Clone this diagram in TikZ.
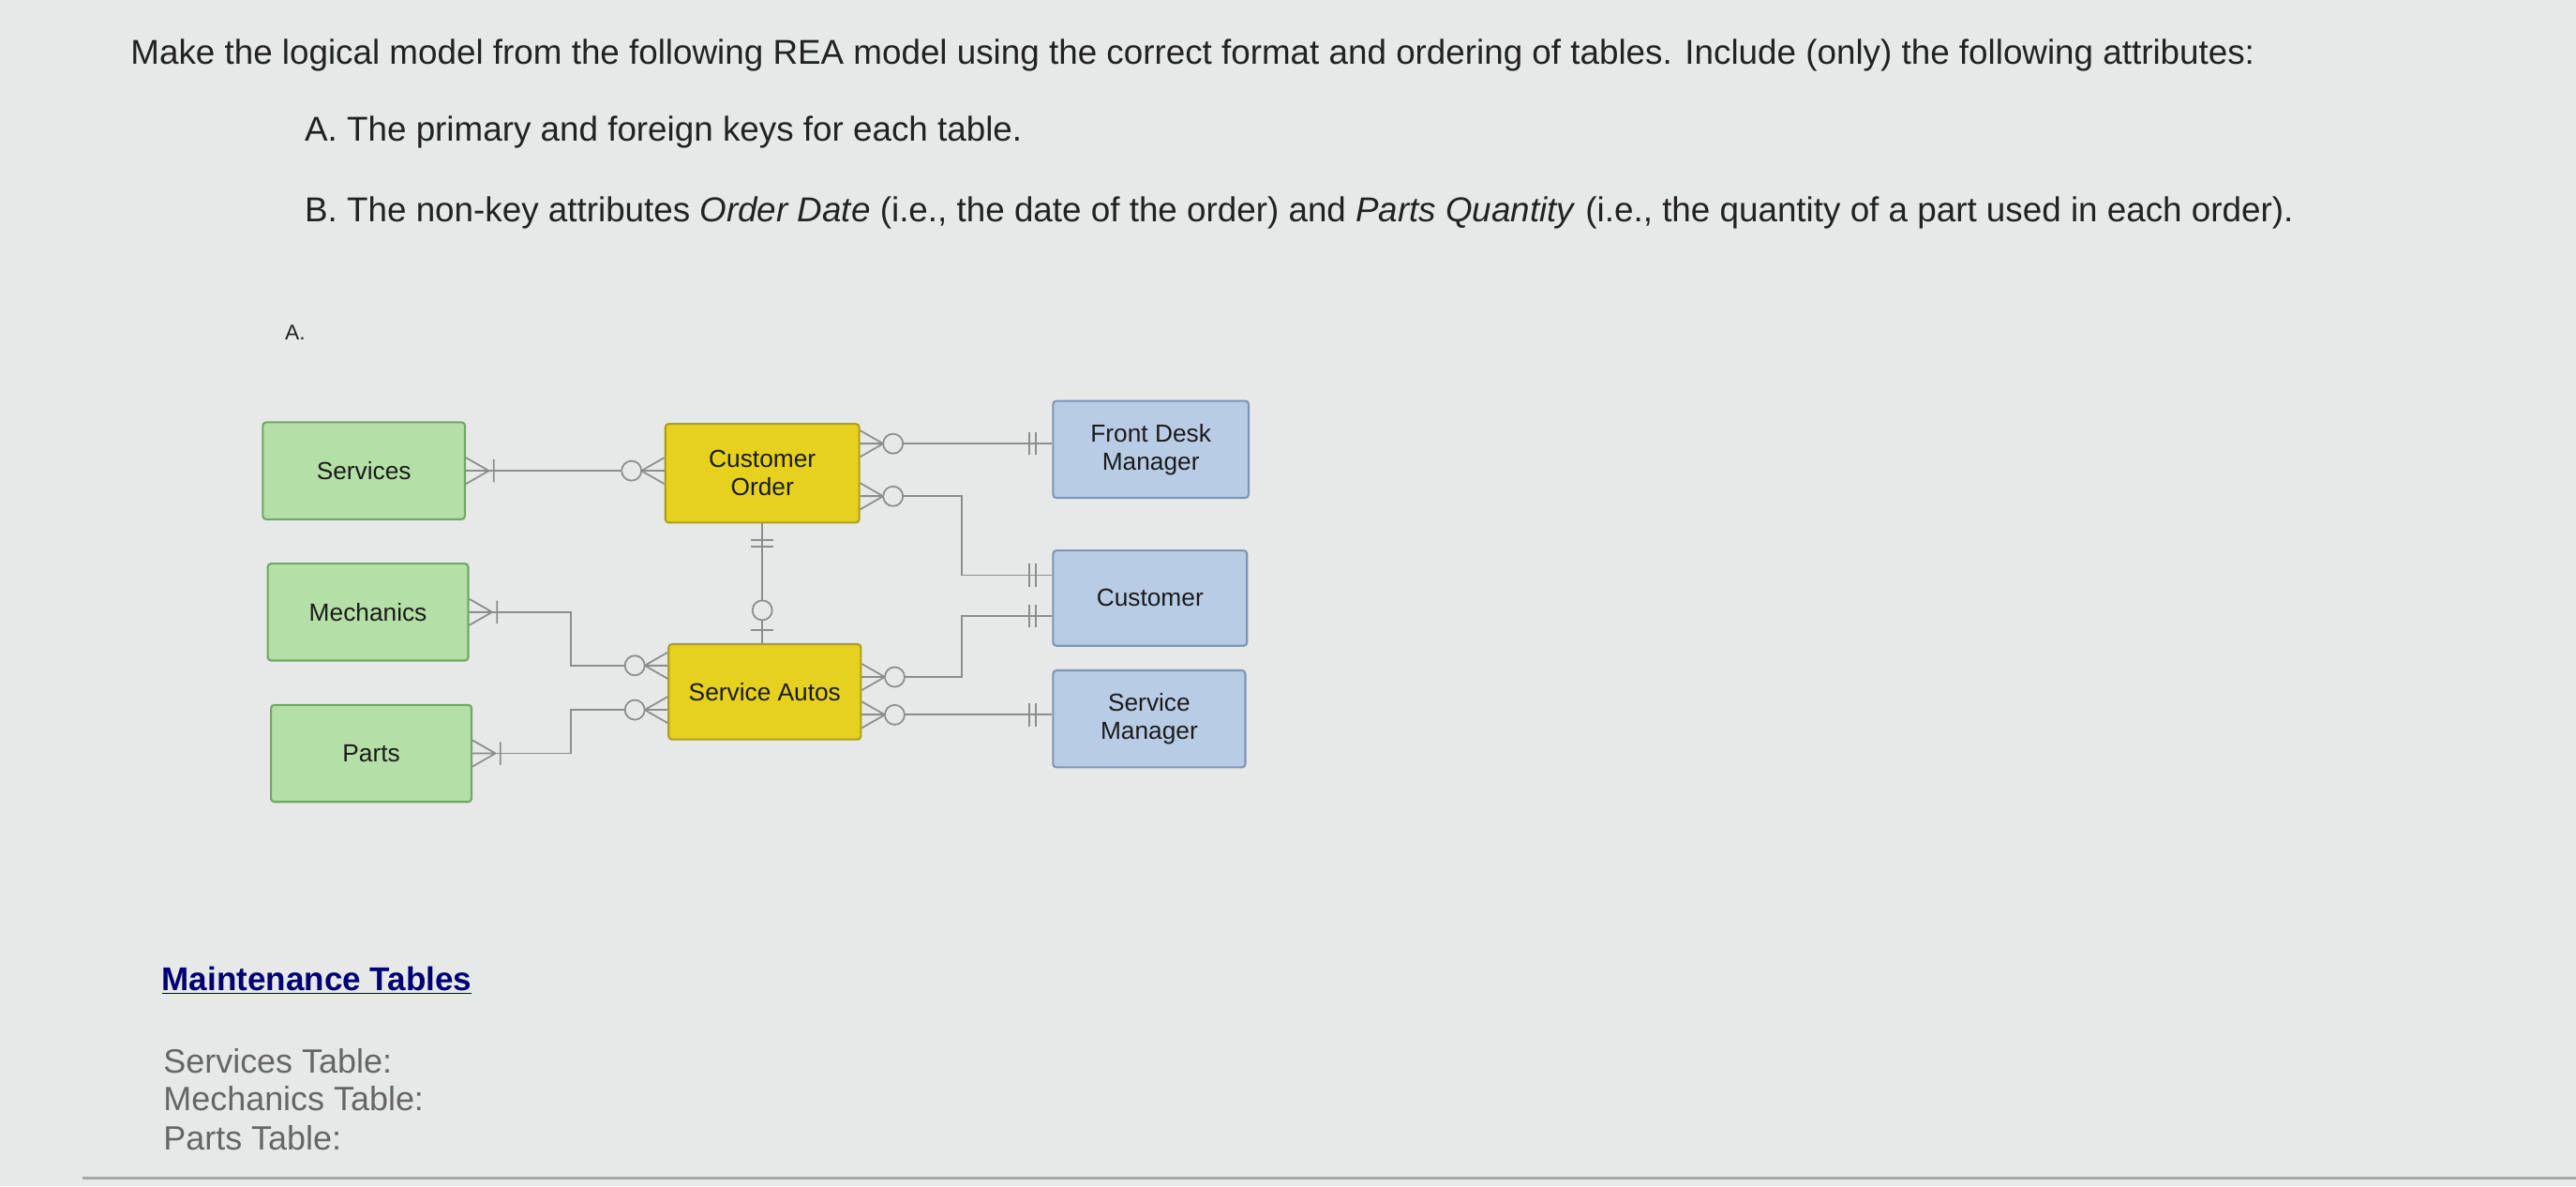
\documentclass[tikz,border=0pt]{standalone}
\usepackage{fontspec}
\setmainfont{Liberation Sans}
\usetikzlibrary{calc}
\definecolor{bg}{HTML}{E6E9E8}
\definecolor{gfill}{HTML}{B4DFA6}\definecolor{gdraw}{HTML}{6FA865}
\definecolor{yfill}{HTML}{E5D11E}\definecolor{ydraw}{HTML}{ADA020}
\definecolor{bfill}{HTML}{B9CCE6}\definecolor{bdraw}{HTML}{7D96B8}
\definecolor{lnc}{HTML}{8A8E8D}
\definecolor{txt}{HTML}{222222}
\begin{document}
\begin{tikzpicture}[x=1pt,y=-1pt,
  ent/.style={draw,line width=1.2pt,rounded corners=2pt,font=\fontsize{15}{17}\selectfont,align=center,text=txt!80!black},
  gent/.style={ent,fill=gfill,draw=gdraw},
  yent/.style={ent,fill=yfill,draw=ydraw},
  bent/.style={ent,fill=bfill,draw=bdraw},
  conn/.style={draw=lnc,line width=1pt},
  zmany/.pic={\draw[conn] (0,-8)--(14,0)--(0,8) (0,0)--(14,0); \draw[conn,fill=bg] (20,0) circle (6);},
  omany/.pic={\draw[conn] (0,-8)--(14,0)--(0,8) (0,0)--(14,0) (17,-7)--(17,7);},
  oone/.pic={\draw[conn] (10,-7)--(10,7) (14,-7)--(14,7);},
  zone/.pic={\draw[conn] (8,-7)--(8,7); \draw[conn,fill=bg] (20,0) circle (6);},
  tx/.style={anchor=base west,text=txt,font=\fontsize{21}{24}\selectfont},
  lo/.style={anchor=base west,text=black!60,font=\fontsize{20.5}{23}\selectfont}
]
\fill[bg] (0,0) rectangle (1568,722);
\useasboundingbox (0,0) rectangle (1568,722);
\node[tx] (t1) at (76,39) {Make the logical model from the following REA model using the correct format and ordering of tables. Include (only) the following attributes:};
\node[tx] (t2) at (182,86) {A. The primary and foreign keys for each table.};
\node[tx] (t3) at (182,135) {B. The non-key attributes \textit{Order Date} (i.e., the date of the order) and \textit{Parts Quantity} (i.e., the quantity of a part used in each order).};
\node[anchor=base west,text=txt,font=\fontsize{13}{15}\selectfont] (ta) at (170,207) {A.};

\node[gent,minimum width=123,minimum height=59] (sv) at (221.5,286.5) {Services};
\node[gent,minimum width=122,minimum height=59] (me) at (224,372.5) {Mechanics};
\node[gent,minimum width=122,minimum height=59] (pa) at (226,458.5) {Parts};
\node[yent,minimum width=118,minimum height=60] (co) at (464,288) {Customer\\Order};
\node[yent,minimum width=117,minimum height=58] (sa) at (465.5,421) {Service Autos};
\node[bent,minimum width=119,minimum height=59] (fd) at (700.5,273.5) {Front Desk\\Manager};
\node[bent,minimum width=118,minimum height=58] (cu) at (700,364) {Customer};
\node[bent,minimum width=117,minimum height=59] (sm) at (699.5,437.5) {Service\\Manager};

\coordinate (a1) at (sv.east); \coordinate (b1) at (co.west|-sv.east);
\coordinate (a2) at ([yshift=18pt]co.east); \coordinate (b2) at (fd.west|-a2);
\coordinate (a3) at ([yshift=-14pt]co.east); \coordinate (b3) at ([yshift=14pt]cu.west);
\coordinate (a4) at (co.south); \coordinate (b4) at (co.south|-sa.north);
\coordinate (a5) at (me.east); \coordinate (b5) at ([yshift=16pt]sa.west);
\coordinate (a6) at (pa.east); \coordinate (b6) at ([yshift=-11pt]sa.west);
\coordinate (a7) at ([yshift=9pt]sa.east); \coordinate (b7) at ([yshift=-11pt]cu.west);
\coordinate (a8) at ([yshift=-14pt]sa.east); \coordinate (b8) at (sm.west|-a8);

\draw[conn] (a1)--(b1);
\draw[conn] (a2)--(b2);
\draw[conn] (a3)--++(62,0)|-(b3);
\draw[conn] (a4)--(b4);
\draw[conn] (a5)--++(62,0)|-(b5);
\draw[conn] (a6)--++(60,0)|-(b6);
\draw[conn] (a7)--++(61,0)|-(b7);
\draw[conn] (a8)--(b8);

\pic at (a1) {omany}; \pic[rotate=180] at (b1) {zmany};
\pic at (a2) {zmany}; \pic[rotate=180] at (b2) {oone};
\pic at (a3) {zmany}; \pic[rotate=180] at (b3) {oone};
\pic[rotate=-90] at (a4) {oone}; \pic[rotate=90] at (b4) {zone};
\pic at (a5) {omany}; \pic[rotate=180] at (b5) {zmany};
\pic at (a6) {omany}; \pic[rotate=180] at (b6) {zmany};
\pic at (a7) {zmany}; \pic[rotate=180] at (b7) {oone};
\pic at (a8) {zmany}; \pic[rotate=180] at (b8) {oone};

\node[anchor=base west,text=blue!45!black,font=\bfseries\fontsize{20}{23}\selectfont] (mt) at (95,603) {\underline{Maintenance Tables}};
\node[lo] (l1) at (96,653) {Services Table:};
\node[lo] (l2) at (96,676) {Mechanics Table:};
\node[lo] (l3) at (96,700) {Parts Table:};
\draw[black!35,line width=2pt] (50,717)--(1568,717);
\end{tikzpicture}
\end{document}
